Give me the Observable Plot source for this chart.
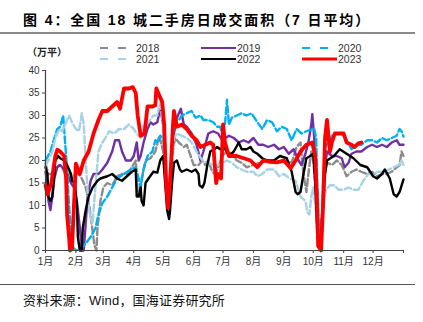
<!DOCTYPE html>
<html><head><meta charset="utf-8">
<script src="https://cdn.jsdelivr.net/npm/d3@7"></script>
<script src="https://cdn.jsdelivr.net/npm/@observablehq/plot@0.6"></script>
<style>
body{margin:0;width:423px;height:322px;background:#fff;position:relative;overflow:hidden;font-family:'Liberation Sans','Noto Sans CJK SC',sans-serif;}
#title{position:absolute;left:23px;top:9px;font-size:14px;font-weight:bold;letter-spacing:1.9px;color:#000;white-space:nowrap;font-family:'Liberation Sans','Noto Sans CJK SC',sans-serif;}
#rule1{position:absolute;left:0;top:32px;width:415px;height:2px;background:#8a8a8a;}
#legend{position:absolute;left:0;top:40px;}
#chart{position:absolute;left:0;top:62px;}
#rule2{position:absolute;left:0;top:283.5px;width:415px;height:1.5px;background:#555;}
#caption{position:absolute;left:23px;top:290px;font-size:13px;letter-spacing:0.2px;color:#111;white-space:nowrap;}
</style></head>
<body>
<div id="title">图 4：全国 18 城二手房日成交面积（7 日平均）</div>
<div id="rule1"></div>
<svg id="legend" width="423" height="24"></svg>
<div id="chart"></div>
<div id="rule2"></div>
<div id="caption">资料来源：Wind，国海证券研究所</div>
<script>
const unitLabel = "（万平）";
const monthDays = [0,31,59,90,120,151,181,212,243,273,304,334,365];
const monthLabels = ["1月","2月","3月","4月","5月","6月","7月","8月","9月","10月","11月","12月",""];
const yTicks = [0,5,10,15,20,25,30,35,40];

const d2018 = [[0,19.3],[3,17],[7,17],[10,18],[14,19],[17,18.5],[20,17],[24,17],[27,16],[31,17],[34,17],[37,16],[41,14],[44,11],[47,6],[50,1],[52,0],[53,5],[56,11],[59,14],[63,15],[68,14.5],[73,16.5],[78,17],[83,17],[88,18.5],[92,20],[94,13],[96,12],[98,16],[102,20],[107,20.5],[112,22],[116,25.5],[120,22],[122,16],[125,10],[127,14],[130,22],[132,25],[136,24],[141,23],[144,23.5],[148,21],[151,19],[156,19],[160,20],[163,19],[166,20],[170,17.5],[173,17],[177,19],[180,21],[185,22],[190,21.5],[195,20],[200,19.5],[205,18.5],[212,19],[219,19.5],[226,20],[232,19.5],[239,19.5],[246,20],[251,19.5],[256,23],[260,24],[263,17],[266,13],[268,17],[271,22],[273,20],[275,15],[277,3],[279,1],[282,8],[284,16],[287,19.5],[292,19],[297,20],[302,19],[307,16.5],[312,17.5],[317,18],[322,17.5],[328,17],[333,17.5],[338,16.5],[343,17],[348,17],[353,17.5],[358,18.5],[361,19],[363,22],[365,21]];
const d2019 = [[0,17.5],[2,15],[3,11],[5,9],[7,12],[9,16],[12,18.5],[15,19],[19,18],[22,17],[26,15],[29,14],[32,11],[35,5],[37,0],[39,0],[41,6],[43,12],[46,15.5],[49,17],[54,17],[58,18],[63,19.5],[68,22],[71,24.5],[75,24.5],[78,22],[82,20],[87,20],[90,21],[93,24],[95,20],[97,21],[100,24],[104,27],[107,28.5],[110,28],[114,28.5],[117,31.5],[120,28],[122,20],[124,13],[126,11],[127,17],[131,26],[134,29.5],[138,31.5],[141,28],[144,27.5],[149,26],[154,23.5],[158,20],[161,22],[166,26],[171,26.5],[176,26],[180,24.5],[187,25.5],[192,25],[197,24],[202,24.5],[207,24],[212,25],[217,23.5],[222,23.5],[227,23],[233,23.5],[238,22.5],[243,23],[248,21.5],[253,22.5],[258,20],[261,19],[265,21.5],[268,24],[271,28],[272,30.3],[274,25],[276,12],[278,2],[279,1],[282,8],[284,17],[287,22],[292,21],[297,21],[302,20.5],[305,18.5],[309,19.5],[312,21.5],[317,22],[322,22],[328,23],[333,23.5],[338,23],[343,23.5],[348,23],[353,24],[358,24.5],[361,23.5],[365,23.5]];
const d2020 = [[0,20],[5,22],[9,25],[12,27],[15,27.5],[18,30],[19,27],[20,24],[22,18],[24,10],[26,4],[27,1],[31,0],[36,0.5],[41,1.5],[46,3],[51,5],[54,8],[58,10.5],[63,12],[68,14],[73,16],[80,17],[87,18],[92,18.5],[95,16],[97,14],[100,18],[104,21],[109,22],[112,24.5],[115,24],[117,25.5],[120,25],[122,18],[124,12],[126,10],[127,14],[130,25],[132,29.5],[136,29],[139,30],[144,30.5],[149,31],[153,29.5],[158,30],[161,29],[166,29],[171,28.5],[175,27.5],[178,27.5],[180,26],[183,28],[185,33.5],[187,28],[190,29.5],[195,30],[200,30.5],[205,30],[210,30.5],[216,28.5],[221,27],[226,29],[231,28.5],[236,26.5],[241,27.5],[246,27],[251,24.5],[256,27],[261,26],[266,26.5],[272,27],[274,27],[276,25],[277,15],[279,3],[281,0.5],[282,5],[283,15],[285,23],[289,24],[292,25.5],[297,26],[302,26],[307,24.5],[312,22.5],[317,23.5],[322,23.5],[328,24.5],[333,24.5],[338,24],[343,25],[348,24.5],[353,25],[358,25.5],[361,27],[363,26.5],[365,25.3]];
const d2021 = [[0,19],[3,20],[7,22],[10,25],[14,27],[17,26.5],[20,28],[24,30],[27,28.5],[31,27],[34,26.5],[36,29],[37,30.5],[39,28],[41,20],[43,13],[45,8],[48,6],[49,9],[52,17],[54,22],[58,24],[61,25],[65,26.5],[70,26],[75,27],[80,27],[85,28],[90,27],[93,26],[97,25],[100,28],[105,28.5],[110,30],[114,30],[117,33],[120,27],[122,18],[125,11],[127,16],[131,25],[134,26],[139,25.5],[144,25],[149,24],[154,22],[160,20],[165,19.5],[171,19],[177,19],[185,20],[190,19.5],[195,18.5],[200,18],[205,17.5],[212,17.5],[216,16.5],[221,17],[226,18],[233,18],[238,16.5],[243,17],[249,16],[255,15.5],[260,12],[265,11],[267,8.5],[269,8],[271,12],[273,14],[276,8],[278,2],[281,3],[283,10],[286,13.5],[290,14.5],[294,14.5],[299,13.5],[304,13.5],[309,14],[314,13.5],[319,13.5],[324,15.5],[329,17],[334,17],[339,17.5],[345,17.5],[350,18],[355,18.5],[360,19],[363,20],[365,19]];
const d2022 = [[0,18.5],[2,17],[3,12],[5,11],[7,12],[9,17],[10,20],[13,21],[15,20.5],[19,20],[22,19],[26,17],[27,15.5],[30,15],[32,10],[33,3],[35,0],[37,0],[38,5],[41,9],[44,12],[48,14],[53,15.5],[56,16],[63,16.5],[68,17],[73,16],[78,15.5],[83,16.5],[88,17.5],[92,18],[93,12],[95,12],[97,14],[98,11],[100,10],[102,15],[105,16],[110,17.5],[114,17.3],[117,20],[120,21],[122,15],[124,9],[126,7],[127,9],[129,15],[131,19.5],[134,20],[137,18],[139,17.5],[144,18],[149,17.5],[153,18],[156,17],[157,14.5],[160,14],[162,15],[165,19],[168,22],[172,22.5],[175,23],[178,22.5],[182,23],[187,21],[192,22],[197,24],[200,22.5],[205,22.5],[209,23],[212,22],[216,21.5],[221,20.5],[226,20],[233,20],[239,21],[246,20.5],[251,17.5],[255,13],[257,12.5],[260,13],[263,17],[266,20.5],[270,21],[273,21.5],[275,15],[277,5],[279,1],[281,2],[283,10],[285,17],[287,20],[294,21],[300,22.5],[307,21.5],[314,20.5],[321,19],[328,18.5],[334,16.5],[338,16],[343,17],[346,18],[351,16],[355,12.5],[358,12],[361,13],[365,15.8]];
const d2023 = [[0,14.5],[2,12.5],[6,15],[10,21],[12,22.4],[15,22],[19,21],[21,16],[22,8],[24,3],[25,0],[27,0.3],[29,10],[31,19.3],[35,17],[39,20],[44,22],[49,26],[54,29],[58,31],[63,31],[68,32],[73,33],[76,31.5],[80,36],[85,36],[89,36.3],[92,35],[94,30],[97,25.5],[101,26],[104,32],[109,32],[112,32.3],[113,36],[115,35],[119,33],[121,28],[123,15],[125,9.5],[127,15],[130,28],[131,31],[134,27.5],[139,28],[144,27],[149,25.5],[154,24.5],[158,23],[163,23.5],[168,24],[171,23.5],[174,15],[176,17],[179,16],[181,28],[183,24],[187,21],[195,21],[202,20.5],[209,20],[216,18.5],[222,20],[229,19.7],[236,19.6],[243,20],[250,18.3],[255,20],[260,22],[266,23.5],[272,24],[275,21],[277,10],[278,1],[281,0],[283,10],[285,25],[287,29],[290,22],[292,24],[295,26],[300,26],[304,26],[307,24],[312,23.5],[315,23],[319,23.8],[322,24]];

const series = [
  {year:"2018", data:d2018, color:"#8c8c8c", dash:"7,3", width:2.4},
  {year:"2019", data:d2019, color:"#7030a0", dash:null, width:2.4},
  {year:"2020", data:d2020, color:"#00b0f0", dash:"7,3", width:2.4},
  {year:"2021", data:d2021, color:"#a6d2e4", dash:"7,3", width:2.4},
  {year:"2022", data:d2022, color:"#000000", dash:null, width:2.4},
  {year:"2023", data:d2023, color:"#ff0000", dash:null, width:3.8}
];

// legend
const leg = d3.select("#legend");
leg.append("text").attr("x",27).attr("y",15.5).attr("font-size",10).attr("font-weight","bold")
  .attr("fill","#222").attr("font-family","'Noto Sans CJK SC',sans-serif").text(unitLabel);
const legPos = [[100,8],[201,8],[302,8],[100,19],[201,19],[302,19]];
const legLayout = {"2018":0,"2019":1,"2020":2,"2021":3,"2022":4,"2023":5};
series.forEach(s => {
  const [lx,ly] = legPos[legLayout[s.year]];
  const dashed = !!s.dash;
  const len = dashed ? 26 : 35;
  leg.append("line").attr("x1",lx).attr("x2",lx+len).attr("y1",ly).attr("y2",ly)
    .attr("stroke",s.color).attr("stroke-width", s.year==="2023"?3.2:2.2)
    .attr("stroke-dasharray", dashed ? "8,10" : null);
  leg.append("text").attr("x", lx+36).attr("y",ly+4).attr("font-size",10.5)
    .attr("fill","#333").attr("font-family","'Liberation Sans',sans-serif").text(s.year);
});

const chart = Plot.plot({
  width:423, height:210,
  marginTop:8, marginBottom:22, marginLeft:45, marginRight:20,
  x:{domain:[0,365]},
  y:{domain:[0,40]},
  style:{fontFamily:"'Liberation Sans','Noto Sans CJK SC',sans-serif", fontSize:"10px", color:"#333", background:"transparent"},
  marks:[
    ...series.map(s => Plot.line(s.data, {x:d=>d[0], y:d=>d[1], stroke:s.color, strokeWidth:s.width, strokeDasharray:s.dash, strokeLinejoin:"round"})),
    Plot.ruleX([0], {stroke:"#444", strokeWidth:1.2}),
    Plot.ruleY([0], {stroke:"#444", strokeWidth:1.2}),
    Plot.axisX(monthDays, {tickSize:3, tickPadding:4, stroke:"#444", tickFormat:d=>monthLabels[monthDays.indexOf(d)], label:null}),
    Plot.axisY(yTicks, {tickSize:3, tickPadding:3, stroke:"#444", label:null})
  ]
});
document.getElementById("chart").appendChild(chart);
</script>
</body></html>
